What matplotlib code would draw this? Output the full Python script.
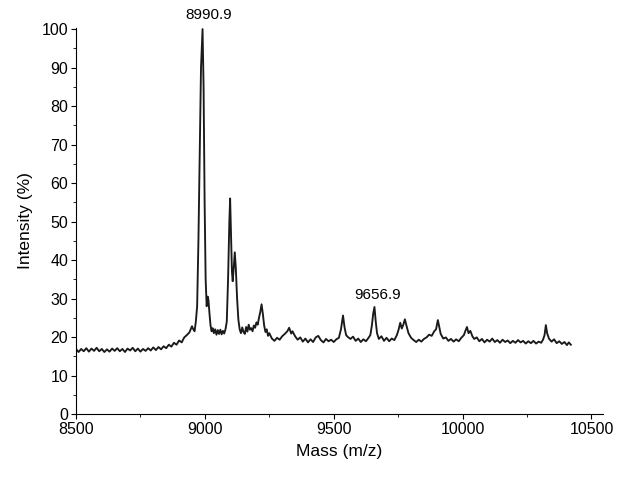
import matplotlib
matplotlib.use("Agg")
import matplotlib.pyplot as plt
from matplotlib.ticker import MultipleLocator

plt.rcParams['font.family'] = ['Liberation Sans', 'DejaVu Sans']

# mass spectrum, values
mass = [8500, 8510, 8520, 8530, 8540, 8550, 8560, 8570, 8580, 8590,
        8600, 8610, 8620, 8630, 8640, 8650, 8660, 8670, 8680, 8690,
        8700, 8710, 8720, 8730, 8740, 8750, 8760, 8770, 8780, 8790,
        8800, 8810, 8820, 8830, 8840, 8850, 8860, 8870, 8880, 8890,
        8900, 8910, 8920, 8930, 8940, 8950, 8955, 8960, 8965, 8970,
        8975, 8980, 8985, 8991, 8995, 8999, 9003, 9007, 9011, 9014,
        9018, 9022, 9026, 9030, 9035, 9040, 9045, 9050, 9055, 9060,
        9065, 9070, 9075, 9080, 9085, 9090, 9095, 9098, 9102, 9105,
        9108, 9112, 9116, 9120, 9125, 9130, 9135, 9140, 9145, 9150,
        9155, 9160, 9165, 9170, 9175, 9180, 9185, 9190, 9195, 9200,
        9205, 9210, 9215, 9220, 9225, 9230, 9235, 9240, 9245, 9250,
        9260, 9270, 9280, 9290, 9300, 9310, 9320, 9327, 9335, 9340,
        9350, 9360, 9370, 9380, 9390, 9400, 9410, 9420, 9430, 9440,
        9450, 9460, 9470, 9480, 9490, 9500, 9510, 9520, 9528, 9536,
        9542, 9548, 9555, 9565, 9575, 9585, 9595, 9605, 9615, 9625,
        9635, 9642, 9648, 9653, 9658, 9663, 9668, 9675, 9685, 9695,
        9705, 9715, 9725, 9735, 9745, 9752, 9758, 9764, 9770, 9776,
        9782, 9790, 9800, 9810, 9820, 9830, 9840, 9850, 9860, 9870,
        9880, 9890, 9897, 9904, 9910, 9915, 9925, 9935, 9945, 9955,
        9965, 9975, 9985, 9995, 10005, 10012, 10017, 10023, 10030, 10038,
        10045, 10055, 10065, 10075, 10085, 10095, 10105, 10115, 10125, 10135,
        10145, 10155, 10165, 10175, 10185, 10195, 10205, 10215, 10225, 10235,
        10245, 10255, 10265, 10275, 10285, 10295, 10305, 10312, 10318, 10323,
        10328, 10335, 10345, 10355, 10365, 10375, 10385, 10395, 10405, 10412,
        10420]
intensity = [16.9, 16.1, 16.9, 16.3, 17.1, 16.2, 17.0, 16.4, 17.2, 16.3,
             16.9, 16.1, 16.8, 16.2, 17.0, 16.4, 17.1, 16.3, 16.9, 16.1,
             17.0, 16.5, 17.2, 16.3, 17.0, 16.2, 16.9, 16.4, 17.1, 16.5,
             17.3, 16.6, 17.4, 16.8, 17.6, 17.1, 18.0, 17.5, 18.5, 18.0,
             19.1, 18.6, 19.9, 20.5, 21.2, 22.8, 22.0, 21.5, 24.0, 28.0,
             45.0, 68.0, 90.0, 100.0, 85.0, 55.0, 35.0, 28.0, 30.5, 29.5,
             26.0, 23.0, 21.5, 22.3, 21.0, 22.0, 20.6, 21.8, 20.8, 21.9,
             20.7, 21.6, 20.9, 22.0, 24.0, 35.0, 50.0, 56.0, 45.0, 37.0,
             34.5, 38.0, 42.0, 38.0, 30.0, 24.5, 22.0, 21.0, 22.5, 21.3,
             20.8, 22.6, 21.4, 23.2, 21.9, 22.3, 21.5, 23.0, 22.4, 23.8,
             23.2, 25.0, 26.5, 28.5, 26.0, 23.0, 21.3, 22.0, 20.3, 21.0,
             19.6, 19.0, 19.8, 19.3, 20.2, 20.8, 21.5, 22.4, 20.9, 21.5,
             20.2, 19.3, 19.9, 18.8, 19.6, 18.6, 19.4, 18.7, 19.9, 20.3,
             19.2, 18.6, 19.5, 18.9, 19.3, 18.7, 19.4, 19.8, 22.0, 25.6,
             22.5, 20.5, 20.0, 19.5, 20.1, 19.0, 19.6, 18.7, 19.4, 18.9,
             19.8, 20.5, 23.0, 26.0, 27.8, 24.0, 21.0, 19.5, 20.2, 19.0,
             19.8, 18.9, 19.6, 19.2, 20.5, 22.0, 23.7, 22.2, 23.2, 24.6,
             23.0, 21.0, 19.8, 19.2, 18.7, 19.3, 18.8, 19.5, 19.9, 20.6,
             20.3, 21.5, 22.0, 24.4, 22.5, 20.8, 19.6, 19.9, 19.0, 19.5,
             18.8, 19.4, 18.9, 19.8, 20.5, 21.8, 22.6, 21.0, 21.6, 20.2,
             19.5, 19.9, 18.9, 19.5, 18.6, 19.3, 18.8, 19.6, 18.7, 19.2,
             18.5, 19.3, 18.7, 19.1, 18.4, 19.0, 18.5, 19.2, 18.6, 19.0,
             18.3, 18.9, 18.4, 19.0, 18.3, 18.8, 18.5, 19.3, 20.5, 23.1,
             21.0, 19.6, 18.8, 19.4, 18.4, 18.9, 18.2, 18.7, 17.9, 18.6,
             18.0]

# peak labels (text, x, y)
peak_labels = ["8990.9", "9656.9"]
label_x = [9016, 9671]
label_y = [103.6, 30.8]

fig = plt.figure(figsize=(6.23, 4.79), dpi=100)
ax = fig.add_axes([0.122, 0.1357, 0.846, 0.806])

ax.plot(mass, intensity, color='#1a1a1a', linewidth=1.35)

for t, x, y in zip(peak_labels, label_x, label_y):
    ax.text(x, y, t, ha='center', va='center', fontsize=11, clip_on=False)

ax.set_xlim(8500, 10545)
ax.set_ylim(0, 100.3)
ax.xaxis.set_major_locator(MultipleLocator(500))
ax.xaxis.set_minor_locator(MultipleLocator(250))
ax.yaxis.set_major_locator(MultipleLocator(10))
ax.yaxis.set_minor_locator(MultipleLocator(5))
ax.tick_params(which='major', length=3.5, width=0.8, labelsize=11.5, pad=2)
ax.tick_params(which='minor', length=2, width=0.6)

ax.spines['top'].set_visible(False)
ax.spines['right'].set_visible(False)

ax.set_xlabel("Mass (m/z)", fontsize=12.5, labelpad=5)
ax.set_ylabel("Intensity (%)", fontsize=12.5, labelpad=6)

plt.savefig("out.png", dpi=100)
